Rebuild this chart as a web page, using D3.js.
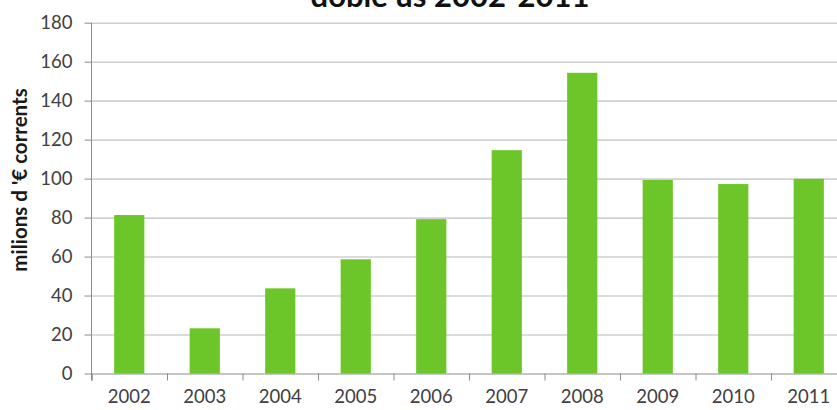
<!DOCTYPE html>
<html>
<head>
<meta charset="utf-8">
<script src="https://cdn.jsdelivr.net/npm/d3@7"></script>
<style>
  body { margin: 0; background: #fff; }
  svg { display: block; font-family: Lato, "Open Sans", sans-serif; }
</style>
</head>
<body>
<div id="chart"></div>
<script>
var years = ['2002', '2003', '2004', '2005', '2006', '2007', '2008', '2009', '2010', '2011'];
var values = [81.3, 23.2, 43.7, 58.6, 79.2, 114.6, 154.3, 99.3, 97.2, 99.9];
var yTicks = [0, 20, 40, 60, 80, 100, 120, 140, 160, 180];
var titleText = 'doble ús 2002-2011';
var yLabel = "milions d '€ corrents";

var w = 837,
    h = 410,
    plotLeft = 91.5,
    step = 75.5,
    plotTop = 22.7,
    plotBottom = 373.5;

var svg = d3.select('#chart')
    .append('svg')
    .attr('width', w)
    .attr('height', h);

var x = d3.scaleBand()
    .domain(years)
    .range([plotLeft, plotLeft + step * years.length])
    .paddingInner(0.6)
    .paddingOuter(0.3);

var xEdges = d3.scaleLinear()
    .domain([0, years.length])
    .range([plotLeft, plotLeft + step * years.length]);

var y = d3.scaleLinear()
    .domain([0, 180])
    .range([plotBottom, plotTop]);

// gridlines
svg.append('g')
    .attr('transform', 'translate(' + plotLeft + ',0)')
    .call(d3.axisLeft(y).tickValues(yTicks.slice(1)).tickSize(-(w - plotLeft)).tickFormat(''))
    .call(function(g){
        g.select('.domain').remove();
        g.selectAll('line').attr('stroke', '#d0d0d0').attr('stroke-width', 1.6);
    });

// bars
svg.selectAll('rect.bar')
    .data(values)
    .enter()
    .append('rect')
    .attr('class', 'bar')
    .attr('x', function(d, i){ return x(years[i]); })
    .attr('y', function(d){ return y(d); })
    .attr('width', x.bandwidth())
    .attr('height', function(d){ return y(0) - y(d); })
    .attr('fill', '#6cc62a');

// y axis
svg.append('g')
    .attr('transform', 'translate(' + plotLeft + ',0)')
    .call(d3.axisLeft(y).tickValues(yTicks).tickSize(7).tickPadding(12))
    .call(function(g){
        g.attr('font-family', null).attr('font-size', null);
        g.select('.domain').remove();
        g.selectAll('line').attr('stroke', '#8c8c8c');
        g.selectAll('text').attr('fill', '#404040').style('font-size', '18.5px');
    });
svg.append('line')
    .attr('x1', plotLeft).attr('x2', plotLeft)
    .attr('y1', y(180)).attr('y2', y(0) + 7)
    .attr('stroke', '#8c8c8c');

// x axis: boundary ticks
svg.append('g')
    .attr('transform', 'translate(0,' + plotBottom + ')')
    .call(d3.axisBottom(xEdges).ticks(years.length).tickSize(7).tickFormat(''))
    .call(function(g){
        g.select('.domain').attr('stroke', '#8c8c8c');
        g.selectAll('line').attr('stroke', '#8c8c8c');
    });

// x axis labels
svg.append('g')
    .attr('transform', 'translate(0,' + plotBottom + ')')
    .call(d3.axisBottom(x).tickSize(0).tickPadding(16))
    .call(function(g){
        g.attr('font-family', null).attr('font-size', null);
        g.select('.domain').remove();
        g.selectAll('text').attr('fill', '#404040').style('font-size', '18.5px');
    });

// axis title
svg.append('text')
    .attr('transform', 'translate(27,180) rotate(-90)')
    .attr('text-anchor', 'middle')
    .style('font-size', '20.5px')
    .style('font-weight', 'bold')
    .attr('fill', '#1a1a1a')
    .text(yLabel);

// chart title, cut off at the top as in the source picture
svg.append('text')
    .attr('x', 450)
    .attr('y', 7)
    .attr('text-anchor', 'middle')
    .style('font-size', '31px')
    .style('font-weight', 'bold')
    .attr('fill', '#111')
    .text(titleText);
</script>
</body>
</html>
